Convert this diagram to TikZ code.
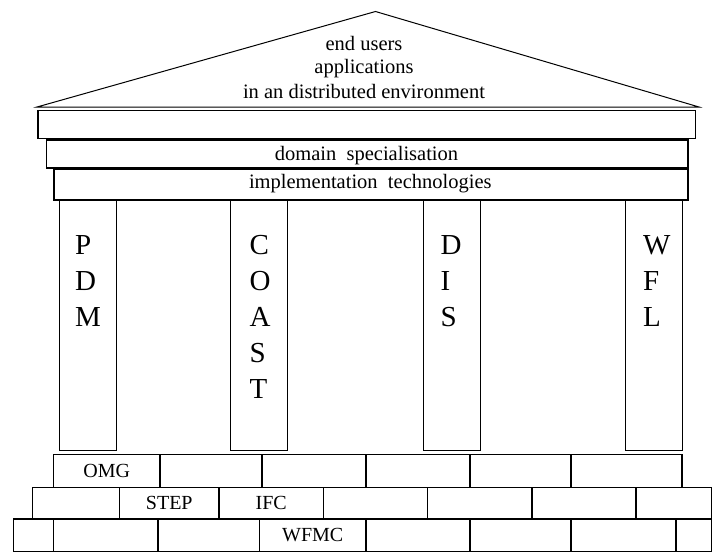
\documentclass[tikz,border=0pt]{standalone}
\usepackage{fontspec}
\setmainfont{Liberation Serif}
\begin{document}
\begin{tikzpicture}[x=1pt, y=-1pt, line width=1.3pt,
  slab/.style={draw, rectangle, inner sep=0pt, anchor=north west},
  brick/.style={draw, rectangle, inner sep=0pt, anchor=north,
    font=\fontsize{20}{24}\selectfont},
  caption/.style={inner sep=0pt, anchor=base, font=\fontsize{20.5}{24}\selectfont},
  letter/.style={inner sep=0pt, anchor=base west, font=\fontsize{29}{36}\selectfont}]
\useasboundingbox (0,0) rectangle (712,552);

% pediment
\coordinate (apex) at (375.5,11.5);
\coordinate (eaveL) at (37,107);
\coordinate (eaveR) at (699,107);
\draw[line width=1pt, line join=miter] (eaveL) -- (apex) -- (eaveR) -- cycle;
\node[caption] (t1) at (364,50) {end users};
\node[caption] (t2) at (364,73.5) {applications};
\node[caption] (t3) at (364,98) {in an distributed environment};

% entablature
\node[slab, minimum width=657.7pt, minimum height=28.2pt] (cornice) at (37.3,109.5) {};
\node[slab, minimum width=641.6pt, minimum height=28pt] (domain) at (45.7,139.3) {};
\node[slab, minimum width=634pt, minimum height=30.6pt] (impl) at (53.3,168.7) {};
\node[caption] (domtext) at (366.5,160) {domain\ \ specialisation};
\node[caption] (impltext) at (370.3,188.3) {implementation\ \ technologies};

% columns
\foreach \l/\r/\tx/\name in {58.5/115.5/74.5/pdm, 229.5/287/249/coast,
                             422.7/479.5/439.5/dis, 624.5/681.7/642.5/wfl}{
  \node[slab, minimum width={(\r-\l)*1pt}, minimum height=250.7pt]
    (col-\name) at (\l,199.3) {};
}
\foreach \c [count=\i from 0] in {P,D,M}
  \node[letter] (pdm-\i) at (74.5,{254+36*\i}) {\c};
\foreach \c [count=\i from 0] in {C,O,A,S,T}
  \node[letter] (coast-\i) at (249,{254+36*\i}) {\c};
\foreach \c [count=\i from 0] in {D,I,S}
  \node[letter] (dis-\i) at (440,{254+36*\i}) {\c};
\foreach \c [count=\i from 0] in {W,F,L}
  \node[letter] (wfl-\i) at (642.5,{254+36*\i}) {\c};

% stepped base of bricks
\foreach \a/\b/\t [count=\i] in {53.6/160/OMG, 160/262/{}, 262/366/{},
                                366/470/{}, 470/571/{}, 571/682/{}}
  \node[brick, minimum width={(\b-\a)*1pt}, minimum height=32.7pt]
    (rowA-\i) at ({(\a+\b)/2},454) {\t};
\foreach \a/\b/\t [count=\i] in {32.7/119.5/{}, 119.5/219/STEP, 219/323.5/IFC,
                                323.5/427.7/{}, 427.7/532/{}, 532/636/{}, 636/711.5/{}}
  \node[brick, minimum width={(\b-\a)*1pt}, minimum height=31.6pt]
    (rowB-\i) at ({(\a+\b)/2},486.7) {\t};
\foreach \a/\b/\t [count=\i] in {13.6/53.6/{}, 53.6/158/{}, 158/259.5/{},
                                259.5/366/WFMC, 366/470/{}, 470/571/{},
                                571/676/{}, 676/711.5/{}}
  \node[brick, minimum width={(\b-\a)*1pt}, minimum height=32.4pt]
    (rowC-\i) at ({(\a+\b)/2},518.3) {\t};
\end{tikzpicture}
\end{document}
